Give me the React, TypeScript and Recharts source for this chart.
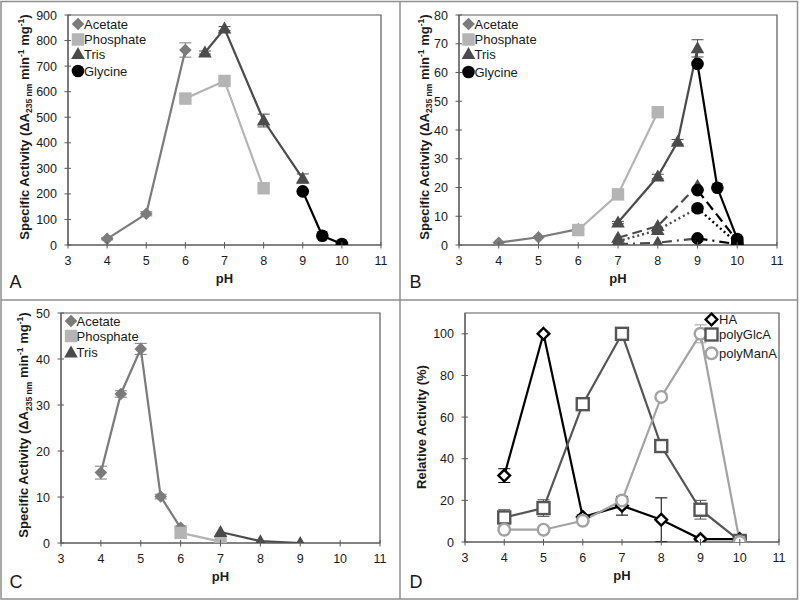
import React from 'react';
import { LineChart, Line, XAxis, YAxis, ErrorBar, ReferenceArea } from 'recharts';

const FONT = '"Liberation Sans", Arial, Helvetica, sans-serif';
const AXIS = '#5a5a5a';
const TEXT = '#1a1a1a';

// ---------- shared ----------
const PH_TICKS = [3, 4, 5, 6, 7, 8, 9, 10, 11];
const BUFFER_NAMES = ['Acetate', 'Phosphate', 'Tris', 'Glycine'];

// ---------- Panel A ----------
const aAcetatePH = [4, 5, 6];
const aAcetate = [24, 122, 763];
const aAcetateErr = [4, 8, 28];
const aPhosphatePH = [6, 7, 8];
const aPhosphate = [573, 642, 222];
const aPhosphateErr = [8, 10, 6];
const aTrisPH = [6.5, 7, 8, 9];
const aTris = [753, 847, 487, 260];
const aTrisErr = [6, 8, 25, 18];
const aGlycinePH = [9, 9.5, 10];
const aGlycine = [210, 36, 4];
const aYTicks = [0, 100, 200, 300, 400, 500, 600, 700, 800, 900];

// ---------- Panel B ----------
const bAcetatePH = [4, 5, 6];
const bAcetate = [0.8, 2.7, 5.5];
const bPhosphatePH = [6, 7, 8];
const bPhosphate = [5.2, 17.6, 46.2];
const bTrisPH = [7, 8, 8.5, 9];
const bTris = [7.8, 23.8, 35.9, 68.4];
const bTrisErr = [0.4, 0.8, 0.8, 3];
const bGlycinePH = [9, 9.5, 10];
const bGlycine = [63, 19.9, 2.1];
const bTrisDashPH = [7, 8, 9];
const bTrisDash = [2.5, 6.6, 20.6];
const bGlycineDashPH = [9, 10];
const bGlycineDash = [19.1, 1.5];
const bTrisDotPH = [7, 8];
const bTrisDot = [1.3, 5.2];
const bGlycineDotPH = [9, 10];
const bGlycineDot = [12.8, 0.6];
const bTrisDashDotPH = [7, 8];
const bTrisDashDot = [0.3, 0.8];
const bGlycineDashDotPH = [9, 10];
const bGlycineDashDot = [2.3, 0.3];
const bYTicks = [0, 10, 20, 30, 40, 50, 60, 70, 80];

// ---------- Panel C ----------
const cAcetatePH = [4, 4.5, 5, 5.5, 6];
const cAcetate = [15.3, 32.4, 42.2, 10.1, 3.3];
const cAcetateErr = [1.4, 0.7, 1.2, 0.5, 0.4];
const cPhosphatePH = [6, 7];
const cPhosphate = [2.2, 0.3];
const cTrisPH = [7, 8, 9];
const cTris = [2.4, 0.4, 0];
const cYTicks = [0, 10, 20, 30, 40, 50];

// ---------- Panel D ----------
const dPH = [4, 5, 6, 7, 8, 9, 10];
const dHA = [31.9, 100, 12, 17.4, 10.7, 1.4, 1.4];
const dHAErr = [3.3, 0, 1, 4.5, 10.5, 0.5, 0];
const dGlcA = [11.8, 16.3, 66.2, 100, 46.1, 15.5, 0.5];
const dGlcAErr = [3.7, 4, 3, 2.5, 0, 4.5, 0];
const dManA = [5.9, 5.9, 10.2, 19.9, 69.7, 100, 0];
const dManAErr = [0, 0, 0, 0, 0, 4.3, 0];
const dNames = ['HA', 'polyGlcA', 'polyManA'];
const dYTicks = [0, 20, 40, 60, 80, 100];

// ---------- styles ----------
type Shape = 'diamond' | 'square' | 'triangle' | 'circle';
const BUF_COLOR = ['#7b7b7b', '#b4b4b4', '#4b4b4b', '#000000'];
const BUF_SHAPE: Shape[] = ['diamond', 'square', 'triangle', 'circle'];
const D_COLOR = ['#000000', '#555555', '#a3a3a3'];
const D_SHAPE: Shape[] = ['diamond', 'square', 'circle'];

type Pt = { x: number; y: number; e: number; m: boolean };
const pts = (xs: number[], ys: number[], es?: number[]): Pt[] =>
  xs.map((x, i) => ({ x, y: ys[i], e: es ? es[i] : 0, m: true }));
const bridge = (x: number, y: number): Pt => ({ x, y, e: 0, m: false });

function Mark({ cx, cy, shape, color, open }: { cx: number; cy: number; shape: Shape; color: string; open?: boolean }) {
  const fill = open ? '#ffffff' : color;
  const sw = open ? 2.4 : 0;
  if (shape === 'diamond') {
    const h = open ? 5.8 : 6.3;
    return <polygon points={`${cx},${cy - h} ${cx + h},${cy} ${cx},${cy + h} ${cx - h},${cy}`} fill={fill} stroke={color} strokeWidth={sw} />;
  }
  if (shape === 'square') {
    const h = open ? 6 : 6.2;
    return <rect x={cx - h} y={cy - h} width={2 * h} height={2 * h} fill={fill} stroke={color} strokeWidth={sw} />;
  }
  if (shape === 'triangle') {
    return <polygon points={`${cx},${cy - 7} ${cx + 6.8},${cy + 5} ${cx - 6.8},${cy + 5}`} fill={fill} stroke={color} strokeWidth={sw} />;
  }
  return <circle cx={cx} cy={cy} r={open ? 5.8 : 6.3} fill={fill} stroke={color} strokeWidth={sw} />;
}

interface Series {
  id: string;
  data: Pt[];
  color: string;
  shape: Shape;
  open?: boolean;
  dash?: string;
  err?: boolean;
}

interface LegendCfg {
  labels: string[];
  colors: string[];
  shapes: Shape[];
  open?: boolean;
  markX: number;
  textX: number;
  rows: number[];
}

interface PanelCfg {
  id: string;
  left: number;
  top: number;
  plot: { l: number; r: number; t: number; b: number };
  yDomain: [number, number];
  yTicks: number[];
  titleKind: 'spec' | 'rel';
  titleX: number;
  titleY: number;
  series: Series[];
  legend: LegendCfg;
}

const S = (i: number) => ({ color: BUF_COLOR[i], shape: BUF_SHAPE[i] });

const panels: PanelCfg[] = [
  {
    id: 'A',
    left: 0,
    top: 0,
    plot: { l: 68, r: 381, t: 15, b: 245 },
    yDomain: [0, 900],
    yTicks: aYTicks,
    titleKind: 'spec',
    titleX: 24,
    titleY: 127,
    series: [
      { id: 'a0', data: pts(aAcetatePH, aAcetate, aAcetateErr), ...S(0), err: true },
      { id: 'a1', data: pts(aPhosphatePH, aPhosphate, aPhosphateErr), ...S(1), err: true },
      { id: 'a2', data: pts(aTrisPH, aTris, aTrisErr), ...S(2), err: true },
      { id: 'a3', data: pts(aGlycinePH, aGlycine), ...S(3) },
    ],
    legend: { labels: BUFFER_NAMES, colors: BUF_COLOR, shapes: BUF_SHAPE, markX: 78, textX: 84, rows: [24, 39.5, 54, 71] },
  },
  {
    id: 'B',
    left: 400,
    top: 0,
    plot: { l: 59, r: 377, t: 15, b: 245 },
    yDomain: [0, 80],
    yTicks: bYTicks,
    titleKind: 'spec',
    titleX: 24,
    titleY: 127,
    series: [
      { id: 'b0', data: pts(bAcetatePH, bAcetate), ...S(0) },
      { id: 'b1', data: pts(bPhosphatePH, bPhosphate), ...S(1) },
      { id: 'b2', data: pts(bTrisPH, bTris, bTrisErr), ...S(2), err: true },
      { id: 'b3', data: pts(bGlycinePH, bGlycine), ...S(3) },
      { id: 'b4', data: pts(bTrisDashPH, bTrisDash), ...S(2), dash: '10 5' },
      { id: 'b5', data: pts(bGlycineDashPH, bGlycineDash), ...S(3), dash: '10 5' },
      { id: 'b6', data: [...pts(bTrisDotPH, bTrisDot), bridge(bGlycineDotPH[0], bGlycineDot[0])], ...S(2), dash: '2 3' },
      { id: 'b7', data: pts(bGlycineDotPH, bGlycineDot), ...S(3), dash: '2 3' },
      { id: 'b8', data: [...pts(bTrisDashDotPH, bTrisDashDot), bridge(bGlycineDashDotPH[0], bGlycineDashDot[0])], ...S(2), dash: '10 5 2 5' },
      { id: 'b9', data: pts(bGlycineDashDotPH, bGlycineDashDot), ...S(3), dash: '10 5 2 5' },
    ],
    legend: { labels: BUFFER_NAMES, colors: BUF_COLOR, shapes: BUF_SHAPE, markX: 68.5, textX: 74.5, rows: [24, 39.5, 54, 72] },
  },
  {
    id: 'C',
    left: 0,
    top: 300,
    plot: { l: 61, r: 380, t: 13, b: 243 },
    yDomain: [0, 50],
    yTicks: cYTicks,
    titleKind: 'spec',
    titleX: 23.5,
    titleY: 125,
    series: [
      { id: 'c0', data: pts(cAcetatePH, cAcetate, cAcetateErr), ...S(0), err: true },
      { id: 'c1', data: pts(cPhosphatePH, cPhosphate), ...S(1) },
      { id: 'c2', data: pts(cTrisPH, cTris), ...S(2) },
    ],
    legend: { labels: BUFFER_NAMES.slice(0, 3), colors: BUF_COLOR, shapes: BUF_SHAPE, markX: 71, textX: 76.5, rows: [21, 36, 52.5] },
  },
  {
    id: 'D',
    left: 400,
    top: 300,
    plot: { l: 65, r: 379, t: 13, b: 242 },
    yDomain: [0, 110],
    yTicks: dYTicks,
    titleKind: 'rel',
    titleX: 21,
    titleY: 127,
    series: [
      { id: 'd0', data: pts(dPH, dHA, dHAErr), color: D_COLOR[0], shape: D_SHAPE[0], open: true, err: true },
      { id: 'd1', data: pts(dPH, dGlcA, dGlcAErr), color: D_COLOR[1], shape: D_SHAPE[1], open: true, err: true },
      { id: 'd2', data: pts(dPH, dManA, dManAErr), color: D_COLOR[2], shape: D_SHAPE[2], open: true, err: true },
    ],
    legend: { labels: dNames, colors: D_COLOR, shapes: D_SHAPE, open: true, markX: 311.5, textX: 319, rows: [19.5, 34.5, 53.3] },
  },
];

function SpecTitle({ x, y }: { x: number; y: number }) {
  return (
    <text transform={`translate(${x + 4.6},${y}) rotate(-90)`} textAnchor="middle" fontFamily={FONT} fontWeight="bold" fontSize={13} fill={TEXT}>
      Specific Activity (ΔA
      <tspan dy={3.5} fontSize={8.5}>235 nm</tspan>
      <tspan dy={-3.5}> min</tspan>
      <tspan dy={-5} fontSize={8.5}>-1</tspan>
      <tspan dy={5}> mg</tspan>
      <tspan dy={-5} fontSize={8.5}>-1</tspan>
      <tspan dy={5}>)</tspan>
    </text>
  );
}

function RelTitle({ x, y }: { x: number; y: number }) {
  return (
    <text transform={`translate(${x + 4.6},${y}) rotate(-90)`} textAnchor="middle" fontFamily={FONT} fontWeight="bold" fontSize={13} fill={TEXT}>
      Relative Activity (%)
    </text>
  );
}

function Panel({ p }: { p: PanelCfg }) {
  const { plot } = p;
  const xTick = (tp: any) => (
    <g>
      <line x1={tp.x} x2={tp.x} y1={plot.b - 3} y2={plot.b + 3.5} stroke={AXIS} strokeWidth={1} />
      <text x={tp.x} y={plot.b + 19.5} textAnchor="middle" fontFamily={FONT} fontSize={12.5} fill={TEXT}>
        {tp.payload.value}
      </text>
    </g>
  );
  const yTick = (tp: any) => (
    <g>
      <line x1={plot.l - 3.5} x2={plot.l + 3} y1={tp.y} y2={tp.y} stroke={AXIS} strokeWidth={1} />
      <text x={plot.l - 11} y={tp.y + 4.5} textAnchor="end" fontFamily={FONT} fontSize={12.5} fill={TEXT}>
        {tp.payload.value}
      </text>
    </g>
  );
  return (
    <div style={{ position: 'absolute', left: p.left, top: p.top, width: 400, height: 300 }}>
      <LineChart width={400} height={300} margin={{ top: plot.t, right: 400 - plot.r, left: 0, bottom: 0 }}>
        <XAxis
          type="number"
          dataKey="x"
          domain={[3, 11]}
          ticks={PH_TICKS}
          interval={0}
          allowDataOverflow
          height={300 - plot.b}
          tickLine={false}
          stroke={AXIS}
          tick={xTick}
          label={{
            content: () => (
              <text x={(plot.l + plot.r) / 2} y={plot.b + 38} textAnchor="middle" fontFamily={FONT} fontWeight="bold" fontSize={13} fill={TEXT}>
                pH
              </text>
            ),
          }}
        />
        <YAxis
          type="number"
          domain={p.yDomain}
          ticks={p.yTicks}
          interval={0}
          allowDataOverflow
          width={plot.l}
          tickLine={false}
          stroke={AXIS}
          tick={yTick}
          label={{
            content: () =>
              p.titleKind === 'spec' ? <SpecTitle x={p.titleX} y={p.titleY} /> : <RelTitle x={p.titleX} y={p.titleY} />,
          }}
        />
        <ReferenceArea x1={3} x2={11} y1={p.yDomain[0]} y2={p.yDomain[1]} fill="none" fillOpacity={0} stroke={AXIS} strokeWidth={1.2} ifOverflow="visible" />
        {p.series.map((s) => (
          <Line
            key={s.id}
            name={s.id}
            data={s.data}
            dataKey="y"
            type="linear"
            stroke={s.color}
            strokeWidth={s.dash === '2 3' ? 2.4 : 2.2}
            strokeDasharray={s.dash}
            isAnimationActive={false}
            activeDot={false}
            legendType="none"
            dot={(dp: any) =>
              dp.payload && dp.payload.m ? (
                <Mark key={`${s.id}-${dp.index}`} cx={dp.cx} cy={dp.cy} shape={s.shape} color={s.color} open={s.open} />
              ) : (
                <g key={`${s.id}-${dp.index}`} />
              )
            }
          >
            {s.err ? <ErrorBar dataKey="e" width={6} stroke={s.color} strokeWidth={1} direction="y" isAnimationActive={false} /> : null}
          </Line>
        ))}
      </LineChart>
      <svg width={400} height={300} style={{ position: 'absolute', left: 0, top: 0, pointerEvents: 'none' }}>
        {p.legend.labels.map((label, i) => (
          <g key={label}>
            <Mark cx={p.legend.markX} cy={p.legend.rows[i]} shape={p.legend.shapes[i]} color={p.legend.colors[i]} open={p.legend.open} />
            <text x={p.legend.textX} y={p.legend.rows[i] + 4.6} fontFamily={FONT} fontSize={13} fill={TEXT}>
              {label}
            </text>
          </g>
        ))}
        <text x={9.5} y={287.5} fontFamily={FONT} fontSize={18} fill={TEXT}>
          {p.id}
        </text>
      </svg>
    </div>
  );
}

export default function App() {
  return (
    <div style={{ position: 'absolute', left: 0, top: 0, width: 800, height: 601, background: '#ffffff', overflow: 'hidden' }}>
      {panels.map((p) => (
        <Panel key={p.id} p={p} />
      ))}
      <svg width={800} height={601} style={{ position: 'absolute', left: 0, top: 0, pointerEvents: 'none' }}>
        <rect x={1} y={1.5} width={796.5} height={597.5} fill="none" stroke="#8f8f8f" strokeWidth={1.5} />
        <line x1={400} y1={1.5} x2={400} y2={599} stroke="#8f8f8f" strokeWidth={1.5} />
        <line x1={1} y1={300} x2={797.5} y2={300} stroke="#8f8f8f" strokeWidth={1.5} />
      </svg>
    </div>
  );
}
